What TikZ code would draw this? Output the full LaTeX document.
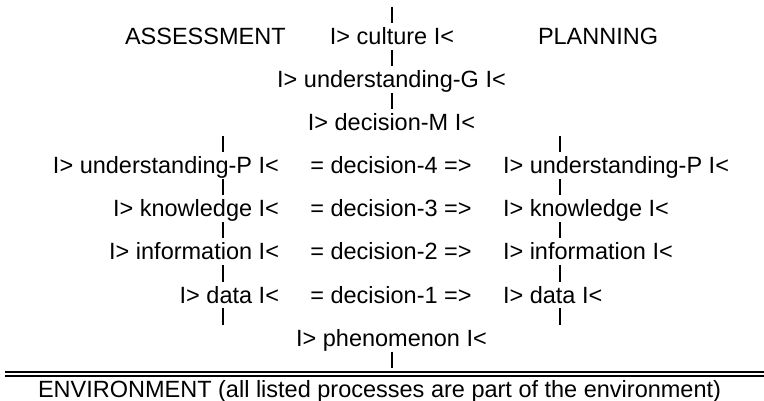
\documentclass[tikz,border=0pt]{standalone}
\usepackage{fontspec}
\setmainfont{Liberation Sans}
\usetikzlibrary{calc}
\begin{document}
\begin{tikzpicture}[x=1pt,y=-1pt,
  lbl/.style={inner sep=0pt, outer sep=0pt, font=\fontsize{23.5}{28}\selectfont},
  bar/.style={line width=2.1pt},
  rule/.style={line width=1.4pt}]
\useasboundingbox (0,0) rectangle (764,401);

% columns of the vertical links
\coordinate (colL) at (223.3,0);
\coordinate (colC) at (391.7,0);
\coordinate (colR) at (560,0);

% top rows
\node[lbl, anchor=base west] (assess) at (125,45) {ASSESSMENT};
\node[lbl, anchor=base] (culture) at (392,45) {I> culture I<};
\node[lbl, anchor=base west] (plan) at (538,45) {PLANNING};
\node[lbl, anchor=base] (undG) at (391.5,88) {I> understanding-G I<};
\node[lbl, anchor=base] (decM) at (391.5,131) {I> decision-M I<};

% assessment side (right aligned)
\node[lbl, anchor=base east] (undPL) at (279,174) {I> understanding-P I<};
\node[lbl, anchor=base east] (knowL) at (279,217) {I> knowledge I<};
\node[lbl, anchor=base east] (infoL) at (279,260) {I> information I<};
\node[lbl, anchor=base east] (dataL) at (279,303) {I> data I<};

% decisions
\node[lbl, anchor=base] (dec4) at (391,174) {= decision-4 =>};
\node[lbl, anchor=base] (dec3) at (391,217) {= decision-3 =>};
\node[lbl, anchor=base] (dec2) at (391,260) {= decision-2 =>};
\node[lbl, anchor=base] (dec1) at (391,303) {= decision-1 =>};

% planning side (left aligned)
\node[lbl, anchor=base west] (undPR) at (503,174) {I> understanding-P I<};
\node[lbl, anchor=base west] (knowR) at (503,217) {I> knowledge I<};
\node[lbl, anchor=base west] (infoR) at (503,260) {I> information I<};
\node[lbl, anchor=base west] (dataR) at (503,303) {I> data I<};

\node[lbl, anchor=base] (phen) at (391.5,346.5) {I> phenomenon I<};

% environment with double rule above
\draw[rule] (5,372) -- (764,372);
\draw[rule] (5,376) -- (764,376);
\node[lbl, anchor=base west] (env) at (38,397) {ENVIRONMENT (all listed processes are part of the environment)};

% vertical links
\draw[bar] ($(culture.base -| colC)+(0,-38)$) -- ($(culture.base -| colC)+(0,-21.5)$);
\draw[bar] ($(culture.base -| colC)+(0,5)$) -- ($(undG.base -| colC)+(0,-21.5)$);
\draw[bar] ($(undG.base -| colC)+(0,5)$) -- ($(decM.base -| colC)+(0,-21.5)$);
\foreach \up/\dn in {decM/undPL, undPL/knowL, knowL/infoL, infoL/dataL, dataL/phen}{
  \draw[bar] ($(\up.base -| colL)+(0,5)$) -- ($(\dn.base -| colL)+(0,-21.5)$);
}
\foreach \up/\dn in {decM/undPR, undPR/knowR, knowR/infoR, infoR/dataR, dataR/phen}{
  \draw[bar] ($(\up.base -| colR)+(0,5)$) -- ($(\dn.base -| colR)+(0,-21.5)$);
}
\draw[bar] ($(phen.base -| colC)+(0,5)$) -- ($(phen.base -| colC)+(0,21.5)$);
\end{tikzpicture}
\end{document}
